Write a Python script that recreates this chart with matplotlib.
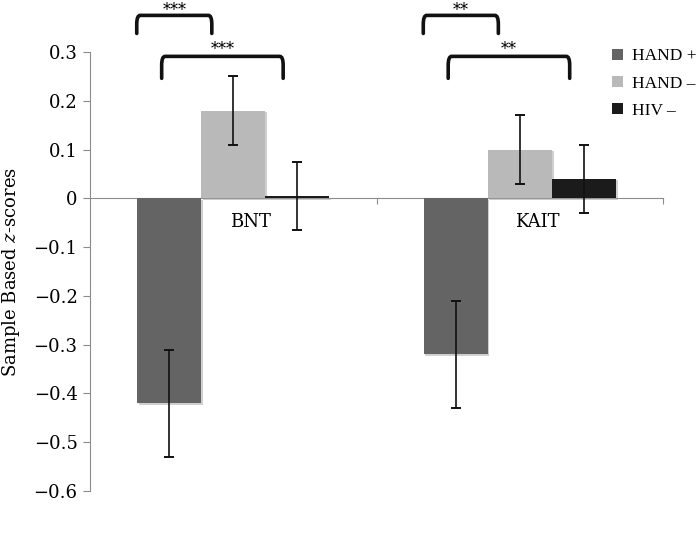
import numpy as np
import matplotlib.pyplot as plt
import matplotlib.path as mpath
import matplotlib.patches as mpatches
import matplotlib.patheffects as pe

# data
tests = ['BNT', 'KAIT']
groups = ['HAND +', 'HAND \u2013', 'HIV \u2013']
hand_pos = [-0.42, -0.32]
hand_neg = [0.18, 0.10]
hiv_neg = [0.005, 0.04]
err_hand_pos = [0.11, 0.11]
err_hand_neg = [0.07, 0.07]
err_hiv_neg = [0.07, 0.07]
sig_top = ['***', '**']      # HAND+ vs HAND-
sig_low = ['***', '**']      # HAND+ vs HIV-
yticks = [0.3, 0.2, 0.1, 0, -0.1, -0.2, -0.3, -0.4, -0.5, -0.6]
ytick_labels = ['0.3', '0.2', '0.1', '0', '\u22120.1', '\u22120.2', '\u22120.3',
                '\u22120.4', '\u22120.5', '\u22120.6']

colors = ['#646464', '#b9b9b9', '#1b1b1b']
serif = 'DejaVu Serif'

fig = plt.figure(figsize=(6.98, 5.53), dpi=100)
ax = fig.add_axes([0.129, 0.112, 0.821, 0.794])

x = np.arange(len(tests))
w = 0.2234
shadow = [pe.SimplePatchShadow(offset=(1.2, -1.2), shadow_rgbFace='#a0a0a0', alpha=0.5), pe.Normal()]

series = [hand_pos, hand_neg, hiv_neg]
errs = [err_hand_pos, err_hand_neg, err_hiv_neg]
for i in range(3):
    bars = ax.bar(x + (i - 1) * w, series[i], w, color=colors[i], label=groups[i], zorder=2)
    for b in bars:
        b.set_path_effects(shadow)
    ax.errorbar(x + (i - 1) * w, series[i], yerr=errs[i], fmt='none', ecolor='#111111',
                elinewidth=1.2, capsize=3.5, capthick=1.4, zorder=4)


def bracket(ax, x1, x2, y, h):
    # bracket with rounded corners, drawn outside the axes
    r = 0.02
    verts = [(x1, y - h), (x1, y - r * 0.9), (x1, y), (x1 + r * 0.6, y),
             (x2 - r * 0.6, y), (x2, y), (x2, y - r * 0.9), (x2, y - h)]
    codes = [mpath.Path.MOVETO, mpath.Path.LINETO, mpath.Path.CURVE3, mpath.Path.CURVE3,
             mpath.Path.LINETO, mpath.Path.CURVE3, mpath.Path.CURVE3, mpath.Path.LINETO]
    p = mpatches.PathPatch(mpath.Path(verts, codes), fill=False, lw=2.6, ec='#111111',
                           capstyle='round', clip_on=False, zorder=5)
    ax.add_patch(p)


for i in range(len(tests)):
    bracket(ax, i - 0.337, i - 0.075, 0.375, 0.037)
    ax.text(i - 0.206, 0.376, sig_top[i], ha='center', va='baseline', fontsize=11.5,
            family=serif, clip_on=False)
    bracket(ax, i - 0.25, i + 0.174, 0.291, 0.045)
    ax.text(i - 0.038, 0.296, sig_low[i], ha='center', va='baseline', fontsize=11.5,
            family=serif, clip_on=False)
    ax.text(i + 0.06, -0.048, tests[i], ha='center', va='center', fontsize=13, family=serif)

ax.set_xlim(-0.5, 1.5)
ax.set_ylim(-0.6, 0.3)
ax.set_yticks(yticks)
ax.set_yticklabels(ytick_labels, family=serif, fontsize=13)
ax.set_xticks([0.5, 1.5])
ax.set_xticklabels([])

for s in ['top', 'right']:
    ax.spines[s].set_visible(False)
ax.spines['bottom'].set_position(('data', 0))
ax.spines['bottom'].set_color('#8c8c8c')
ax.spines['left'].set_color('#8c8c8c')
ax.spines['bottom'].set_zorder(1)
ax.tick_params(axis='y', direction='out', length=5, color='#8c8c8c', pad=4)
ax.tick_params(axis='x', direction='out', length=4, color='#8c8c8c')

ax.set_ylabel('Sample Based $z$-scores', family=serif, fontsize=13, labelpad=8)
ax.yaxis.label.set_math_fontfamily('dejavuserif')

leg = fig.legend(loc='upper left', bbox_to_anchor=(0.870, 0.922), frameon=False,
                 handlelength=0.6, handleheight=0.6, handletextpad=0.5,
                 labelspacing=0.65, borderaxespad=0, borderpad=0.3,
                 prop={'family': 'Liberation Serif', 'size': 12.5})
for h in leg.legend_handles:
    h.set_path_effects([])

fig.savefig('out.png', dpi=100)
